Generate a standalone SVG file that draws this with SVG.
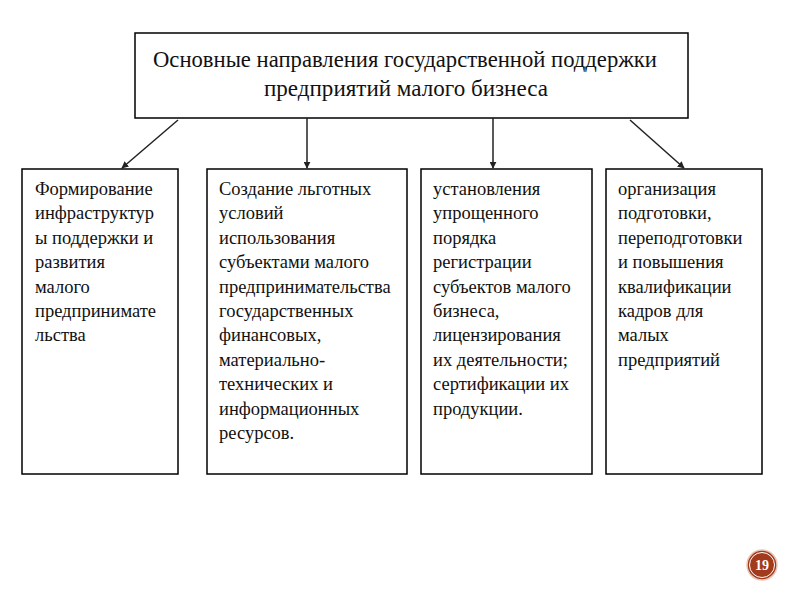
<svg xmlns="http://www.w3.org/2000/svg" width="800" height="600" viewBox="0 0 800 600">
<defs>
<style>
.box{fill:#fff;stroke:#000;stroke-width:1.5}
.t{font-family:'Liberation Serif','Times New Roman',serif;font-size:18.5px;fill:#111}
.h{font-family:'Liberation Serif','Times New Roman',serif;font-size:22.5px;fill:#111}
.c{stroke:#222;stroke-width:1.5;fill:none;marker-end:url(#ah)}
</style>
<marker id="ah" viewBox="0 0 10 10" refX="9" refY="5" markerWidth="7" markerHeight="7" orient="auto" markerUnits="userSpaceOnUse">
<path d="M0,0 L10,5 L0,10 z" fill="#222"/>
</marker>
</defs>
<rect width="800" height="600" fill="#fff"/>
<g id="top">
<rect class="box" x="135" y="33" width="553" height="85"/>
<text class="h" x="405" y="67" text-anchor="middle" textLength="504" lengthAdjust="spacingAndGlyphs">Основные направления государственной поддержки</text>
<text class="h" x="406" y="96" text-anchor="middle" textLength="284" lengthAdjust="spacingAndGlyphs">предприятий малого бизнеса</text>
</g>
<g id="connectors">
<line class="c" x1="178" y1="120" x2="122" y2="168"/>
<line class="c" x1="307" y1="118" x2="307" y2="168"/>
<line class="c" x1="493" y1="118" x2="493" y2="168"/>
<line class="c" x1="630" y1="120" x2="684" y2="168"/>
</g>
<g id="n1">
<rect class="box" x="22" y="169" width="156" height="305"/>
<text class="t" x="35" y="195">
<tspan x="35" dy="0">Формирование</tspan>
<tspan x="35" dy="24.4">инфраструктур</tspan>
<tspan x="35" dy="24.4">ы поддержки  и</tspan>
<tspan x="35" dy="24.4">развития</tspan>
<tspan x="35" dy="24.4">малого</tspan>
<tspan x="35" dy="24.4">предпринимате</tspan>
<tspan x="35" dy="24.4">льства</tspan>
</text>
</g>
<g id="n2">
<rect class="box" x="207" y="169" width="200" height="305"/>
<text class="t" x="219" y="195">
<tspan x="219" dy="0">Создание льготных</tspan>
<tspan x="219" dy="24.4">условий</tspan>
<tspan x="219" dy="24.4">использования</tspan>
<tspan x="219" dy="24.4">субъектами малого</tspan>
<tspan x="219" dy="24.4">предпринимательства</tspan>
<tspan x="219" dy="24.4">государственных</tspan>
<tspan x="219" dy="24.4">финансовых,</tspan>
<tspan x="219" dy="24.4">материально-</tspan>
<tspan x="219" dy="24.4">технических  и</tspan>
<tspan x="219" dy="24.4">информационных</tspan>
<tspan x="219" dy="24.4">ресурсов.</tspan>
</text>
</g>
<g id="n3">
<rect class="box" x="421" y="169" width="171" height="305"/>
<text class="t" x="433" y="195">
<tspan x="433" dy="0">установления</tspan>
<tspan x="433" dy="24.4">упрощенного</tspan>
<tspan x="433" dy="24.4">порядка</tspan>
<tspan x="433" dy="24.4">регистрации</tspan>
<tspan x="433" dy="24.4">субъектов  малого</tspan>
<tspan x="433" dy="24.4">бизнеса,</tspan>
<tspan x="433" dy="24.4">лицензирования</tspan>
<tspan x="433" dy="24.4">их деятельности;</tspan>
<tspan x="433" dy="24.4">сертификации  их</tspan>
<tspan x="433" dy="24.4">продукции.</tspan>
</text>
</g>
<g id="n4">
<rect class="box" x="606" y="169" width="156" height="305"/>
<text class="t" x="618" y="195">
<tspan x="618" dy="0">организация</tspan>
<tspan x="618" dy="24.4">подготовки,</tspan>
<tspan x="618" dy="24.4">переподготовки</tspan>
<tspan x="618" dy="24.4">и повышения</tspan>
<tspan x="618" dy="24.4">квалификации</tspan>
<tspan x="618" dy="24.4">кадров для</tspan>
<tspan x="618" dy="24.4">малых</tspan>
<tspan x="618" dy="24.4">предприятий</tspan>
</text>
</g>
<g id="badge">
<circle cx="762" cy="565" r="15" fill="#a23b1e" stroke="#e8c9b8" stroke-width="1.5"/>
<circle cx="762" cy="565" r="12.5" fill="none" stroke="#fff" stroke-width="1"/>
<text x="762" y="570" text-anchor="middle" font-family="'Liberation Serif', serif" font-size="14" font-weight="bold" fill="#fff">19</text>
</g>
</svg>
